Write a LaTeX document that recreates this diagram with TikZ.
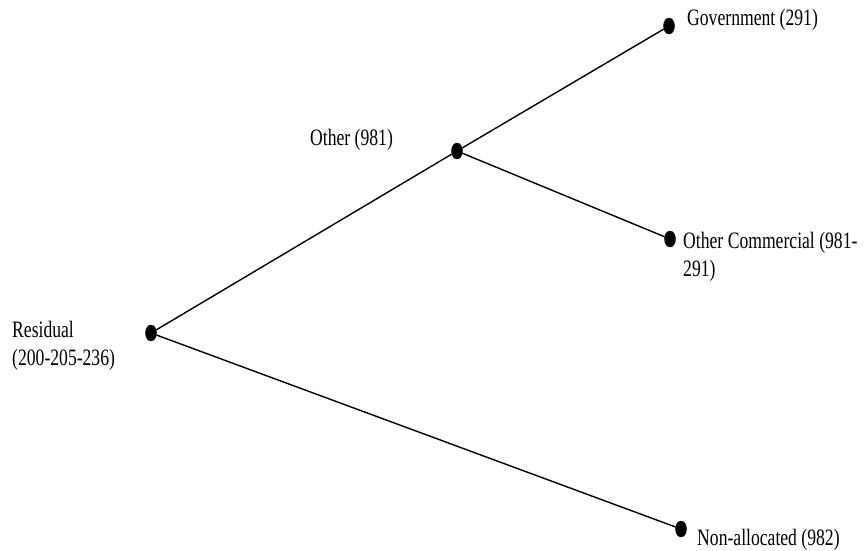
\documentclass[tikz,border=0pt]{standalone}
\usepackage{fontspec}
\setmainfont{Liberation Serif}[FakeStretch=0.75]
\usepackage{tikz}
\usetikzlibrary{shapes.geometric}

\begin{document}
\begin{tikzpicture}[
    x=1pt, y=-1pt,
    dot/.style={ellipse, fill=black, draw=black, minimum width=11pt, minimum height=16pt, inner sep=0pt},
    lbl/.style={anchor=base west, inner sep=0pt, align=left, font=\fontsize{23.5}{28}\selectfont},
    branch/.style={line width=1.4pt, color=black}
]
\useasboundingbox (0,0) rectangle (866,550);

% Dots
\node[dot] (resid) at (151,333) {};
\node[dot] (other) at (457,151) {};
\node[dot] (govt) at (669,26) {};
\node[dot] (othcom) at (670,239) {};
\node[dot] (nonall) at (681,529) {};

% Labels
\node[lbl] (residlbl) at (12,365) {Residual\\(200-205-236)};
\node[lbl] (otherlbl) at (310,145) {Other (981)};
\node[lbl] (govtlbl) at (687,25) {Government (291)};
\node[lbl] (othcomlbl) at (683,276) {Other Commercial (981-\\291)};
\node[lbl] (nonalllbl) at (697,545) {Non-allocated (982)};

% Branches
\draw[branch] (resid) -- (other);
\draw[branch] (resid) -- (nonall);
\draw[branch] (other) -- (govt);
\draw[branch] (other) -- (othcom);

\end{tikzpicture}
\end{document}
